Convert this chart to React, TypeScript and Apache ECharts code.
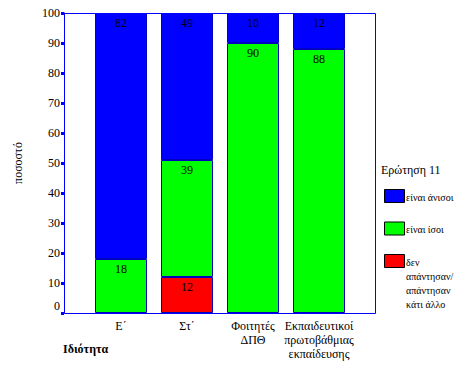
import React, { useEffect, useRef } from "react";
import * as echarts from "echarts";

const categories = ["Ε΄", "Στ΄", "Φοιτητές\nΔΠΘ", "Εκπαιδευτικοί\nπρωτοβάθμιας\nεκπαίδευσης"];
const seriesNames = ["είναι άνισοι", "είναι ίσοι", "δεν\nαπάντησαν/\nαπάντησαν\nκάτι άλλο"];
const unequal = [82, 49, 10, 12];
const equal = [18, 39, 90, 88];
const noAnswer: (number | null)[] = [null, 12, null, null];
const yTicks = { min: 0, max: 100, interval: 10 };
const legendTitle = "Ερώτηση 11";
const yName = "ποσοστό";
const xName = "Ιδιότητα";

const colors = ["#0000ff", "#00ff00", "#ff0000"];
const FONT = "Liberation Serif";
const AXIS = "#0000ff";

export default function App() {
  const ref = useRef<HTMLDivElement>(null);
  useEffect(() => {
    if (!ref.current) return;
    const chart = echarts.init(ref.current, undefined, { renderer: "svg" });
    const label = {
      show: true,
      position: "insideTop" as const,
      distance: 4,
      color: "#000",
      fontFamily: FONT,
      fontSize: 12,
    };
    const mk = (name: string, data: (number | null)[], color: string) => ({
      name,
      type: "bar" as const,
      stack: "s",
      data,
      barWidth: 52,
      itemStyle: { color, borderColor: "#0000c0", borderWidth: 1 },
      label,
    });
    const legendIdx = [0, 1, 2];
    const legendGraphics: any[] = [];
    legendIdx.forEach((i, k) => {
      const top = 189 + k * 32.5;
      legendGraphics.push({
        type: "rect",
        shape: { x: 384.5, y: top + 0.5, width: 20, height: 13 },
        style: { fill: colors[i], stroke: "#000", lineWidth: 1 },
      });
      legendGraphics.push({
        type: "text",
        x: 406,
        y: top + 1,
        style: {
          text: seriesNames[i],
          fill: "#000",
          fontFamily: FONT,
          fontSize: 10,
          lineHeight: 14,
          verticalAlign: "top",
        },
      });
    });
    chart.setOption({
      animation: false,
      backgroundColor: "#fff",
      textStyle: { fontFamily: FONT },
      grid: { left: 88, top: 13, width: 264, height: 300 },
      xAxis: {
        type: "category",
        data: categories,
        axisLine: { lineStyle: { color: AXIS, width: 1 } },
        axisTick: { alignWithLabel: true, length: 3, lineStyle: { color: AXIS, width: 3 } },
        axisLabel: { color: "#000", fontFamily: FONT, fontSize: 12, lineHeight: 14, margin: 6, interval: 0 },
      },
      yAxis: {
        type: "value",
        min: yTicks.min,
        max: yTicks.max,
        interval: yTicks.interval,
        offset: 24,
        name: yName,
        nameLocation: "middle",
        nameGap: 40,
        nameTextStyle: { color: "#000", fontFamily: FONT, fontSize: 12 },
        splitLine: { show: false },
        axisLine: { show: true, lineStyle: { color: AXIS, width: 1 } },
        axisTick: { show: true, length: 3, lineStyle: { color: AXIS, width: 3 } },
        axisLabel: {
          color: "#000",
          fontFamily: FONT,
          fontSize: 12,
          margin: 4,
          formatter: (v: number) => (v === 0 ? "{z|0}" : String(v)),
          rich: { z: { padding: [0, 0, 14, 0], fontFamily: FONT, fontSize: 12, color: "#000" } },
        },
      },
      series: [
        mk(seriesNames[2], noAnswer, colors[2]),
        mk(seriesNames[1], equal, colors[1]),
        mk(seriesNames[0], unequal, colors[0]),
      ],
      graphic: [
        {
          type: "rect",
          z: 100,
          shape: { x: 64.5, y: 13.5, width: 311, height: 300 },
          style: { fill: "none", stroke: AXIS, lineWidth: 1 },
        },
        {
          type: "text",
          x: 381,
          y: 170,
          style: { text: legendTitle, fill: "#000", fontFamily: FONT, fontSize: 12, verticalAlign: "middle" },
        },
        {
          type: "text",
          x: 63,
          y: 349,
          style: { text: xName, fill: "#000", fontFamily: FONT, fontSize: 12, fontWeight: "bold", verticalAlign: "middle" },
        },
        ...legendGraphics,
      ],
    });
    return () => chart.dispose();
  }, []);
  return <div ref={ref} style={{ width: 469, height: 375, position: "absolute", left: 0, top: 0 }} />;
}
